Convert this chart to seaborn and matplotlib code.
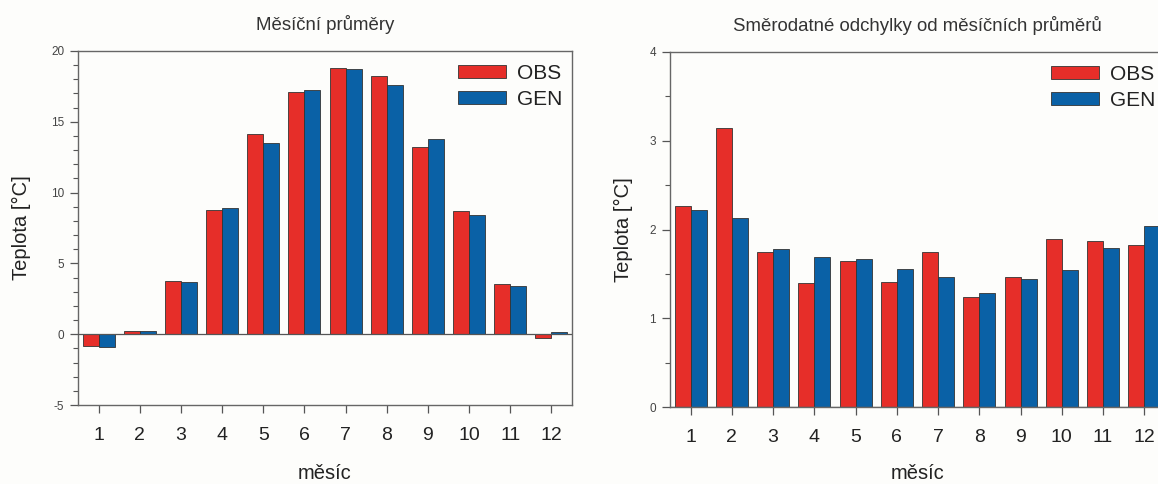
import matplotlib
matplotlib.use("Agg")
import matplotlib.pyplot as plt
from matplotlib.ticker import MultipleLocator
import seaborn as sns
import pandas as pd

months = ["1", "2", "3", "4", "5", "6", "7", "8", "9", "10", "11", "12"]
series_names = ["OBS", "GEN"]
mean_obs = [-0.8, 0.2, 3.74, 8.79, 14.14, 17.08, 18.77, 18.26, 13.25, 8.72, 3.57, -0.3]
mean_gen = [-0.9, 0.2, 3.67, 8.88, 13.53, 17.22, 18.70, 17.57, 13.75, 8.39, 3.38, 0.19]
std_obs = [2.27, 3.14, 1.75, 1.40, 1.64, 1.41, 1.75, 1.24, 1.47, 1.89, 1.87, 1.83]
std_gen = [2.22, 2.13, 1.78, 1.69, 1.67, 1.55, 1.47, 1.29, 1.44, 1.54, 1.79, 2.04]

title_left = "Měsíční průměry"
title_right = "Směrodatné odchylky od měsíčních průměrů"
xlabel = "měsíc"
ylabel = "Teplota [°C]"

RED = "#E62E29"
BLUE = "#0A61A6"
BG = "#FDFDFB"

sns.set_theme(style="white")
plt.rcParams["font.family"] = ["Liberation Sans", "DejaVu Sans"]
plt.rcParams["axes.unicode_minus"] = False


def make_df(obs, gen):
    return pd.DataFrame({
        "month": months * 2,
        "series": [series_names[0]] * 12 + [series_names[1]] * 12,
        "value": list(obs) + list(gen),
    })


fig = plt.figure(figsize=(11.58, 4.84), dpi=100, facecolor=BG)
W, H = 1158, 484
axL = fig.add_axes([78 / W, (H - 405) / H, 494 / W, 354 / H])
axR = fig.add_axes([670 / W, (H - 407) / H, 495 / W, 355 / H])

configs = [
    (axL, make_df(mean_obs, mean_gen), title_left, (-5, 20), 5, 1, -0.095, -0.168),
    (axR, make_df(std_obs, std_gen), title_right, (0, 4), 1, 0.5, -0.075, -0.16),
]

for ax, df, title, ylim, major, minor, ylx, xly in configs:
    ax.set_facecolor(BG)
    sns.barplot(data=df, x="month", y="value", hue="series",
                palette=[RED, BLUE], saturation=1, width=0.78, gap=0,
                edgecolor="#333333", linewidth=0.6, ax=ax)
    ax.set_xlim(-0.5, 11.5)
    ax.set_ylim(*ylim)
    ax.yaxis.set_major_locator(MultipleLocator(major))
    ax.yaxis.set_minor_locator(MultipleLocator(minor))
    ax.axhline(0, color="#555555", lw=0.9, zorder=5)
    for s in ["left", "bottom", "top", "right"]:
        ax.spines[s].set_visible(True)
        ax.spines[s].set_color("#666666")
        ax.spines[s].set_linewidth(1.0)
    ax.tick_params(axis="x", which="major", direction="out", length=6, width=0.9,
                   color="#555555", labelsize=14, labelcolor="#222222", pad=10,
                   bottom=True)
    ax.tick_params(axis="y", which="major", direction="out", length=6, width=0.9,
                   color="#555555", labelsize=8.5, labelcolor="#444444", pad=4,
                   left=True)
    ax.tick_params(axis="y", which="minor", direction="out", length=3.5, width=0.8,
                   color="#555555", left=True)
    ax.set_title(title, fontsize=13.4, color="#333333", pad=15)
    ax.set_xlabel(xlabel, fontsize=14.5, color="#222222")
    ax.set_ylabel(ylabel, fontsize=14.5, color="#222222")
    ax.yaxis.set_label_coords(ylx, 0.5)
    ax.xaxis.set_label_coords(0.5, xly)
    leg = ax.legend(loc="upper right", bbox_to_anchor=(1.01, 1.005), frameon=False,
                    fontsize=15, handlelength=2.3, handleheight=0.55,
                    labelspacing=0.35, handletextpad=0.55, borderaxespad=0.3)
    for t in leg.get_texts():
        t.set_color("#222222")

fig.savefig("out.png", dpi=100, facecolor=BG)
